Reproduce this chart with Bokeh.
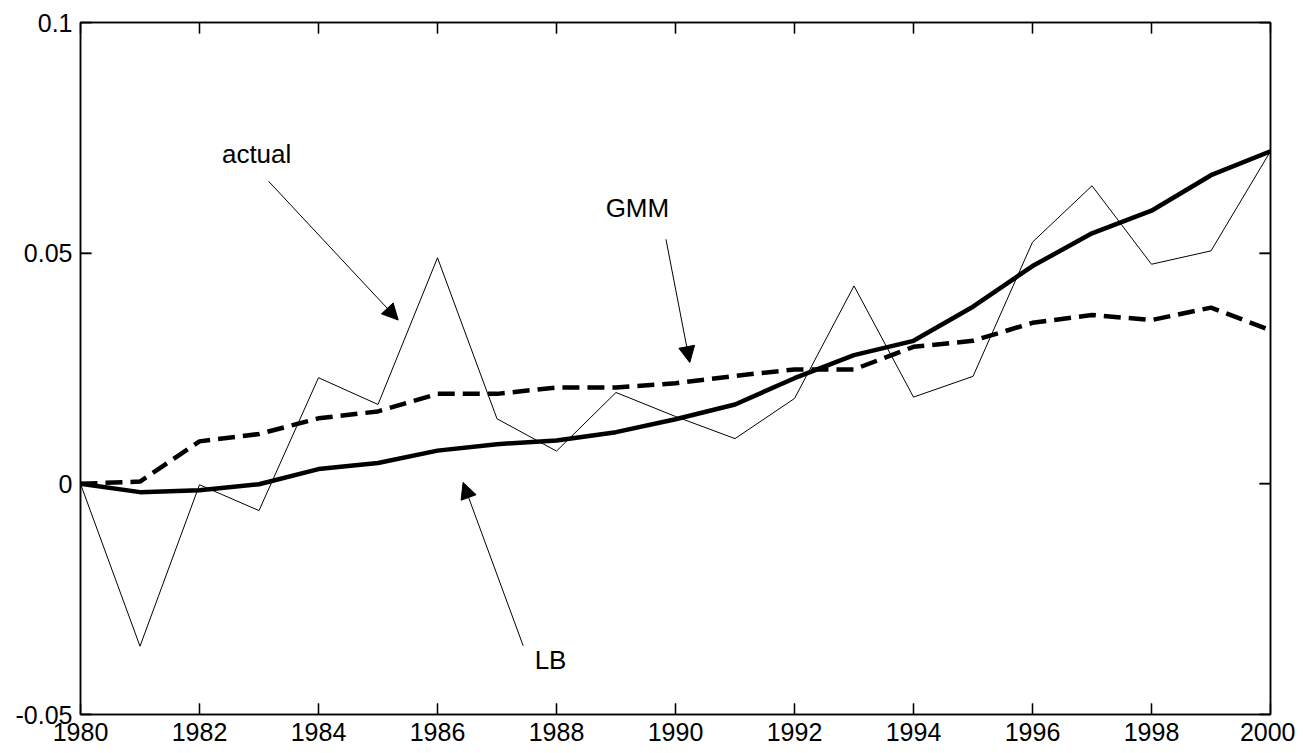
import math
from bokeh.plotting import figure
from bokeh.models import (Range1d, FixedTicker, LinearAxis, Arrow, NormalHead,
                          ColumnDataSource)
from bokeh.core.properties import value
from bokeh.embed import file_html
from bokeh.resources import INLINE

years = list(range(1980, 2001))
actual = [0.0, -0.0352, -0.0002, -0.0058, 0.0230, 0.0172, 0.0490, 0.0141, 0.0071,
          0.0198, 0.0146, 0.0098, 0.0185, 0.0429, 0.0188, 0.0233, 0.0524, 0.0646,
          0.0476, 0.0505, 0.0721]
lb = [0.0, -0.0018, -0.0014, -0.0001, 0.0032, 0.0045, 0.0072, 0.0086, 0.0094,
      0.0112, 0.0140, 0.0172, 0.0229, 0.0279, 0.0310, 0.0384, 0.0472, 0.0543,
      0.0592, 0.0669, 0.0721]
gmm = [0.0, 0.0005, 0.0092, 0.0108, 0.0142, 0.0157, 0.0195, 0.0195, 0.0209,
       0.0209, 0.0218, 0.0234, 0.0248, 0.0248, 0.0297, 0.0310, 0.0349, 0.0366,
       0.0355, 0.0382, 0.0333]

x_ticks = list(range(1980, 2001, 2))
y_ticks = [-0.05, 0.0, 0.05, 0.1]
y_tick_labels = ["-0.05", "0", "0.05", "0.1"]

labels = ["actual", "GMM", "LB"]
label_x = [1982.96, 1989.36, 1987.90]
label_y = [0.0716, 0.0597, -0.0381]
arrow_x0 = [1983.16, 1989.84, 1987.44]
arrow_y0 = [0.0656, 0.0530, -0.0351]
arrow_x1 = [1985.34, 1990.24, 1986.43]
arrow_y1 = [0.0355, 0.0263, 0.0003]

FONT = "Liberation Sans"
X0, X1 = 1980, 2000
Y0, Y1 = -0.05, 0.1

p = figure(width=1295, height=745, output_backend="svg", toolbar_location=None,
           x_range=Range1d(X0, X1), y_range=Range1d(Y0, Y1),
           min_border_left=80, min_border_right=25, min_border_top=22,
           min_border_bottom=31)
p.grid.visible = False
p.outline_line_color = "black"
p.outline_line_width = 1.5
p.background_fill_color = "white"
p.border_fill_color = "white"

p.line(years, actual, line_color="black", line_width=1)
p.line(years, gmm, line_color="black", line_width=4.5, line_dash="17 8")
p.line(years, lb, line_color="black", line_width=4.5)

# inward tick marks on all four sides (half of each dash is clipped by the frame)
p.scatter([X0] * len(y_ticks) + [X1] * len(y_ticks), y_ticks + y_ticks,
          marker="dash", size=22, line_color="black", line_width=1.3)
p.scatter(x_ticks + x_ticks, [Y0] * len(x_ticks) + [Y1] * len(x_ticks),
          marker="dash", angle=math.pi / 2, size=22, line_color="black", line_width=1.3)

for xa, ya, xb, yb in zip(arrow_x0, arrow_y0, arrow_x1, arrow_y1):
    p.add_layout(Arrow(end=NormalHead(size=16, fill_color="black", line_color="black"),
                       x_start=xa, y_start=ya, x_end=xb, y_end=yb,
                       line_color="black", line_width=1))

src = ColumnDataSource(dict(x=label_x, y=label_y, t=labels))
p.text(x="x", y="y", text="t", source=src, text_align="center",
       text_baseline="middle", text_font=value(FONT), text_font_size="26px",
       text_color="black")

def style(ax):
    ax.major_tick_in = 11
    ax.major_tick_out = 0
    ax.minor_tick_in = 0
    ax.minor_tick_out = 0
    ax.axis_line_color = "black"
    ax.axis_line_width = 1.5
    ax.major_tick_line_color = "black"
    ax.major_tick_line_width = 1.3
    ax.major_label_text_font = FONT
    ax.major_label_text_font_size = "25px"
    ax.major_label_text_color = "black"

xa = p.xaxis[0]
xa.ticker = FixedTicker(ticks=x_ticks)
style(xa)
xa.major_label_standoff = 8

ya = p.yaxis[0]
ya.ticker = FixedTicker(ticks=y_ticks)
ya.major_label_overrides = {t: s for t, s in zip(y_ticks, y_tick_labels)}
style(ya)
ya.major_label_standoff = 8

top = LinearAxis(ticker=FixedTicker(ticks=x_ticks))
style(top)
top.major_label_overrides = {t: "" for t in x_ticks}
top.major_label_standoff = 0
p.add_layout(top, "above")

right = LinearAxis(ticker=FixedTicker(ticks=y_ticks))
style(right)
right.major_label_overrides = {t: "" for t in y_ticks}
right.major_label_standoff = 0
p.add_layout(right, "right")

open("out.html", "w").write(file_html(p, INLINE))
